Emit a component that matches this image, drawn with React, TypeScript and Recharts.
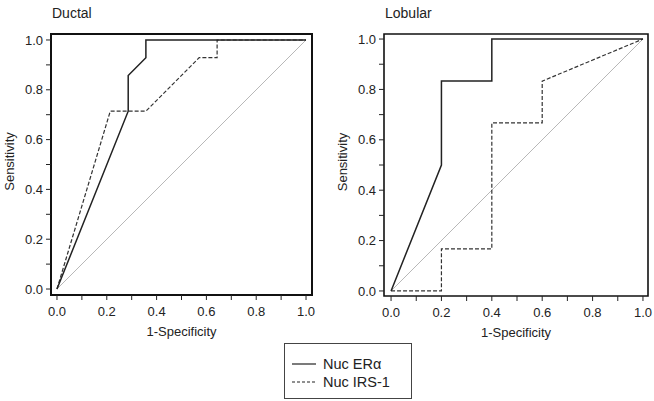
import React from "react";
import { Label, Line, LineChart, ReferenceArea, XAxis, YAxis } from "recharts";

type Pt = { x: number; y: number };

// ROC curves
const ductalEra: Pt[] = [
  { x: 0, y: 0 },
  { x: 0.286, y: 0.714 },
  { x: 0.286, y: 0.857 },
  { x: 0.357, y: 0.929 },
  { x: 0.357, y: 1 },
  { x: 1, y: 1 },
];
const ductalIrs: Pt[] = [
  { x: 0, y: 0 },
  { x: 0.214, y: 0.714 },
  { x: 0.357, y: 0.714 },
  { x: 0.571, y: 0.929 },
  { x: 0.643, y: 0.929 },
  { x: 0.643, y: 1 },
  { x: 1, y: 1 },
];
const lobularEra: Pt[] = [
  { x: 0, y: 0 },
  { x: 0.2, y: 0.5 },
  { x: 0.2, y: 0.833 },
  { x: 0.4, y: 0.833 },
  { x: 0.4, y: 1 },
  { x: 1, y: 1 },
];
const lobularIrs: Pt[] = [
  { x: 0, y: 0 },
  { x: 0.2, y: 0 },
  { x: 0.2, y: 0.167 },
  { x: 0.4, y: 0.167 },
  { x: 0.4, y: 0.667 },
  { x: 0.6, y: 0.667 },
  { x: 0.6, y: 0.833 },
  { x: 1, y: 1 },
];
const chance: Pt[] = [
  { x: 0, y: 0 },
  { x: 1, y: 1 },
];
const ticks = [0, 0.1, 0.2, 0.3, 0.4, 0.5, 0.6, 0.7, 0.8, 0.9, 1];
const seriesNames = ["Nuc ERα", "Nuc IRS-1"];

const FONT = "'Liberation Sans', Arial, Helvetica, sans-serif";
const fmt = (v: number) => (Math.round(v * 10) % 2 === 0 ? v.toFixed(1) : "");
const tickStyle = { fontSize: 13, fill: "#222", fontFamily: FONT };

function RocPanel({
  title,
  era,
  irs,
  left,
  width,
  yAxisWidth,
  marginRight,
  plotBottom,
  xDomain,
  yDomain,
  yLabelX,
  boxWidth,
}: {
  title: string;
  era: Pt[];
  irs: Pt[];
  left: number;
  width: number;
  yAxisWidth: number;
  marginRight: number;
  plotBottom: number;
  xDomain: [number, number];
  yDomain: [number, number];
  yLabelX: number;
  boxWidth: number;
}) {
  const height = 345;
  return (
    <div style={{ position: "absolute", left, top: 0 }}>
      <div
        style={{
          position: "absolute",
          left: yAxisWidth + 1,
          top: 5,
          fontFamily: FONT,
          fontSize: 14,
          color: "#222",
          whiteSpace: "nowrap",
        }}
      >
        {title}
      </div>
      <LineChart
        width={width}
        height={height}
        margin={{ top: 34, right: marginRight, left: 0, bottom: height - plotBottom - 40 }}
      >
        <XAxis
          type="number"
          dataKey="x"
          domain={xDomain}
          allowDataOverflow
          ticks={ticks}
          tickFormatter={fmt}
          tick={tickStyle}
          tickSize={5}
          tickMargin={7}
          axisLine={false}
          tickLine={{ stroke: "#222" }}
          height={40}
          interval={0}
        >
          <Label
            content={(p: any) => {
              const vb = p.viewBox;
              return (
                <text
                  x={vb.x + vb.width / 2}
                  y={vb.y + 41}
                  textAnchor="middle"
                  style={{ fontSize: 13, fontFamily: FONT, fill: "#222" }}
                >
                  1-Specificity
                </text>
              );
            }}
          />
        </XAxis>
        <YAxis
          type="number"
          dataKey="y"
          domain={yDomain}
          allowDataOverflow
          ticks={ticks}
          tickFormatter={fmt}
          tick={tickStyle}
          tickSize={5}
          tickMargin={3}
          axisLine={false}
          tickLine={{ stroke: "#222" }}
          width={yAxisWidth}
          interval={0}
        >
          <Label
            content={(p: any) => {
              const vb = p.viewBox;
              const cx = vb.x + yLabelX;
              const cy = vb.y + vb.height / 2 - 3;
              return (
                <text
                  x={cx}
                  y={cy}
                  textAnchor="middle"
                  dominantBaseline="central"
                  transform={`rotate(-90 ${cx} ${cy})`}
                  style={{ fontSize: 13, fontFamily: FONT, fill: "#222" }}
                >
                  Sensitivity
                </text>
              );
            }}
          />
        </YAxis>
        <ReferenceArea
          x1={xDomain[0]}
          x2={xDomain[1]}
          y1={yDomain[0]}
          y2={yDomain[1]}
          fill="none"
          stroke="#111"
          strokeWidth={boxWidth}
          ifOverflow="visible"
        />
        <Line
          data={chance}
          dataKey="y"
          type="linear"
          stroke="#b8b8b8"
          strokeWidth={1}
          dot={false}
          isAnimationActive={false}
        />
        <Line
          data={irs}
          dataKey="y"
          name={seriesNames[1]}
          type="linear"
          stroke="#333"
          strokeWidth={1.2}
          strokeDasharray="4 2"
          dot={false}
          isAnimationActive={false}
        />
        <Line
          data={era}
          dataKey="y"
          name={seriesNames[0]}
          type="linear"
          stroke="#222"
          strokeWidth={1.5}
          dot={false}
          isAnimationActive={false}
        />
      </LineChart>
    </div>
  );
}

function LegendBox() {
  return (
    <div
      style={{
        position: "absolute",
        left: 284,
        top: 343,
        width: 128,
        height: 56,
        border: "1px solid #444",
        boxSizing: "border-box",
        fontFamily: FONT,
        fontSize: 14.5,
        color: "#222",
      }}
    >
      {seriesNames.map((name, i) => (
        <div
          key={name}
          style={{
            position: "absolute",
            left: 7,
            top: 11 + i * 18,
            display: "flex",
            alignItems: "center",
            whiteSpace: "nowrap",
            lineHeight: "18px",
          }}
        >
          <svg width={24} height={10} style={{ marginRight: 7 }}>
            <line
              x1={0}
              y1={5}
              x2={24}
              y2={5}
              stroke="#222"
              strokeWidth={1.2}
              strokeDasharray={i === 1 ? "3 2" : undefined}
            />
          </svg>
          {name}
        </div>
      ))}
    </div>
  );
}

export default function App() {
  return (
    <div style={{ position: "absolute", left: 0, top: 0, width: 654, height: 401, background: "#fff" }}>
      <RocPanel
        title="Ductal"
        era={ductalEra}
        irs={ductalIrs}
        left={0}
        width={330}
        yAxisWidth={51}
        marginRight={18}
        plotBottom={295}
        xDomain={[-0.024, 1.024]}
        yDomain={[-0.024, 1.024]}
        yLabelX={9}
        boxWidth={2}
      />
      <RocPanel
        title="Lobular"
        era={lobularEra}
        irs={lobularIrs}
        left={330}
        width={324}
        yAxisWidth={54}
        marginRight={6}
        plotBottom={296}
        xDomain={[-0.028, 1.02]}
        yDomain={[-0.02, 1.02]}
        yLabelX={12}
        boxWidth={1.6}
      />
      <LegendBox />
    </div>
  );
}
